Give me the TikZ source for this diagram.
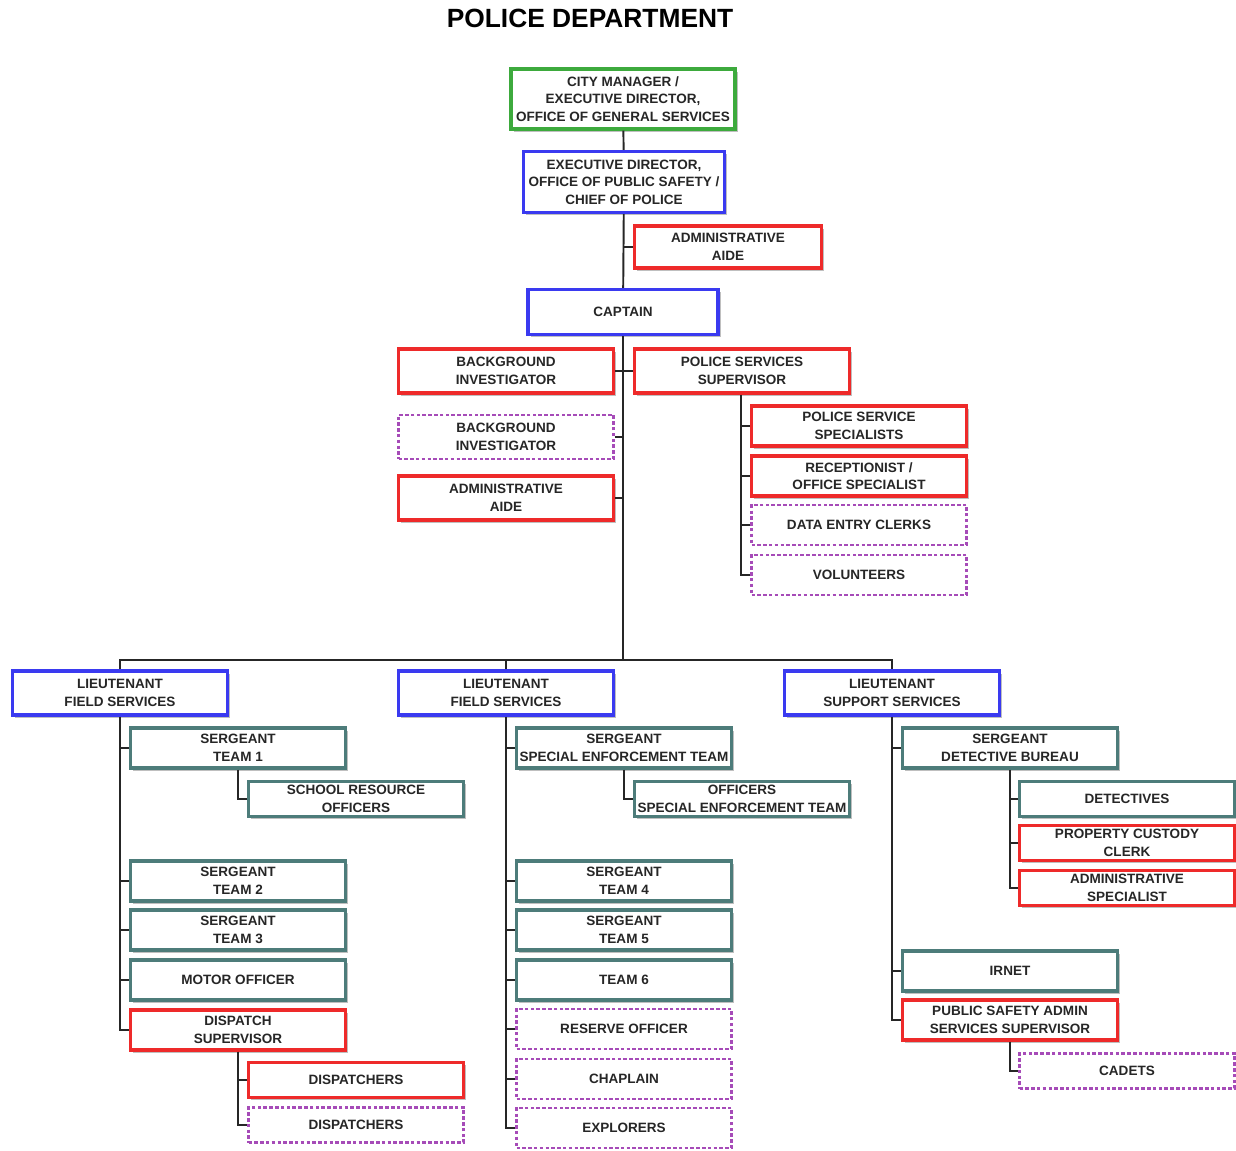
\documentclass[tikz,border=0pt]{standalone}
\usepackage{fontspec}
\setmainfont{Liberation Sans}
\usepackage{tikz}
\usetikzlibrary{positioning,shapes,shadows}

\definecolor{mgrgreen}{HTML}{3DAA3D}
\definecolor{execblue}{HTML}{3A3AF0}
\definecolor{civred}{HTML}{EE2A2A}
\definecolor{swornteal}{HTML}{4D7C7A}
\definecolor{volpurple}{HTML}{A64BB8}

\tikzset{
  box/.style={draw, line width=1.8pt, fill=white, align=center, inner sep=1pt,
              text=black!85, font=\fontsize{7.7}{10}\selectfont\bfseries,
              minimum width=4.3cm, minimum height=0.8cm},
  shaded/.style={box, drop shadow={shadow xshift=1.5pt, shadow yshift=-1.5pt, fill=gray!50, opacity=1}},
  mgr/.style={shaded, draw=mgrgreen},
  exec/.style={shaded, draw=execblue},
  civ/.style={shaded, draw=civred},
  sworn/.style={shaded, draw=swornteal},
  volbox/.style={box, draw=volpurple, line width=1.3pt, dash pattern=on 2pt off 1.3pt},
  slim/.style={minimum height=0.7cm},
  tall/.style={minimum height=0.88cm},
  link/.style={line width=1.1pt, black!85}
}

\begin{document}
\begin{tikzpicture}[x=0.02cm, y=-0.02cm]
  \useasboundingbox (0,0) rectangle (1236,1151);
  \node (title) at (590,18) {\fontsize{15}{17}\selectfont\bfseries POLICE DEPARTMENT};

  \node (cm) [mgr, minimum width=4.48cm, minimum height=1.2cm] at (623,99)
        {CITY MANAGER /\\EXECUTIVE DIRECTOR,\\OFFICE OF GENERAL SERVICES};
  \node (ed) [exec, minimum width=4.02cm, minimum height=1.22cm] at (624,182)
        {EXECUTIVE DIRECTOR,\\OFFICE OF PUBLIC SAFETY /\\CHIEF OF POLICE};
  \node (aide1) [civ, minimum width=3.74cm, minimum height=0.84cm] at (728,247)
        {ADMINISTRATIVE\\AIDE};
  \node (captain) [exec, minimum width=3.8cm, minimum height=0.9cm] at (623,312) {CAPTAIN};

  \node (bgi1) [civ, tall] at (506,371) {BACKGROUND\\INVESTIGATOR};
  \node (pss) [civ, tall] at (742,371) {POLICE SERVICES\\SUPERVISOR};
  \node (bgi2) [volbox, tall] at (506,437) {BACKGROUND\\INVESTIGATOR};
  \node (aide2) [civ, tall] at (506,498) {ADMINISTRATIVE\\AIDE};

  \node (psspec) [civ] at (859,426) {POLICE SERVICE\\SPECIALISTS};
  \node (recep) [civ] at (859,476) {RECEPTIONIST /\\OFFICE SPECIALIST};
  \node (dec) [volbox] at (859,525) {DATA ENTRY CLERKS};
  \node (vols) [volbox] at (859,575) {VOLUNTEERS};

  \node (lt1) [exec, tall] at (120,693) {LIEUTENANT\\FIELD SERVICES};
  \node (lt2) [exec, tall] at (506,693) {LIEUTENANT\\FIELD SERVICES};
  \node (lt3) [exec, tall] at (892,693) {LIEUTENANT\\SUPPORT SERVICES};

  \node (sgt1) [sworn] at (238,748) {SERGEANT\\TEAM 1};
  \node (sro) [sworn, slim] at (356,799) {SCHOOL RESOURCE\\OFFICERS};
  \node (sgt2) [sworn] at (238,881) {SERGEANT\\TEAM 2};
  \node (sgt3) [sworn] at (238,930) {SERGEANT\\TEAM 3};
  \node (motor) [sworn] at (238,980) {MOTOR OFFICER};
  \node (dsup) [civ] at (238,1030) {DISPATCH\\SUPERVISOR};
  \node (disp1) [civ, slim] at (356,1080) {DISPATCHERS};
  \node (disp2) [volbox, slim] at (356,1125) {DISPATCHERS};

  \node (sset) [sworn] at (624,748) {SERGEANT\\SPECIAL ENFORCEMENT TEAM};
  \node (oset) [sworn, slim] at (742,799) {OFFICERS\\SPECIAL ENFORCEMENT TEAM};
  \node (sgt4) [sworn] at (624,881) {SERGEANT\\TEAM 4};
  \node (sgt5) [sworn] at (624,930) {SERGEANT\\TEAM 5};
  \node (team6) [sworn] at (624,980) {TEAM 6};
  \node (reserve) [volbox] at (624,1029) {RESERVE OFFICER};
  \node (chaplain) [volbox] at (624,1079) {CHAPLAIN};
  \node (explorers) [volbox] at (624,1128) {EXPLORERS};

  \node (sdb) [sworn] at (1010,748) {SERGEANT\\DETECTIVE BUREAU};
  \node (detect) [sworn, slim] at (1127,799) {DETECTIVES};
  \node (pcc) [civ, slim] at (1127,843) {PROPERTY CUSTODY\\CLERK};
  \node (aspec) [civ, slim] at (1127,888) {ADMINISTRATIVE\\SPECIALIST};
  \node (irnet) [sworn] at (1010,971) {IRNET};
  \node (psass) [civ] at (1010,1020) {PUBLIC SAFETY ADMIN\\SERVICES SUPERVISOR};
  \node (cadets) [volbox, slim] at (1127,1071) {CADETS};

  \coordinate (bus) at (623,660);
  \draw [link] (cm) -- (ed);
  \draw [link] (ed) -- (captain);
  \draw [link] (aide1.west) -- (aide1.west -| ed.south);
  \draw [link] (captain) -- (bus);
  \draw [link] (bgi1.east) -- (pss.west);
  \foreach \n in {bgi2,aide2}
    \draw [link] (\n.east) -- (\n.east -| bus);
  \draw [link] (pss.south -| 741,0) |- (vols.west);
  \foreach \n in {psspec,recep,dec}
    \draw [link] (\n.west) -- ++(-10,0);

  \draw [link] (lt1.north) |- (bus) -| (lt3.north);
  \draw [link] (lt2.north) -- (lt2.north |- bus);

  \draw [link] (lt1.south) |- (dsup.west);
  \foreach \n in {sgt1,sgt2,sgt3,motor}
    \draw [link] (\n.west) -- (\n.west -| lt1.south);
  \draw [link] (sgt1.south) |- (sro.west);
  \draw [link] (dsup.south) |- (disp2.west);
  \draw [link] (disp1.west) -- (disp1.west -| dsup.south);

  \draw [link] (lt2.south) |- (explorers.west);
  \foreach \n in {sset,sgt4,sgt5,team6,reserve,chaplain}
    \draw [link] (\n.west) -- (\n.west -| lt2.south);
  \draw [link] (sset.south) |- (oset.west);

  \draw [link] (lt3.south) |- (psass.west);
  \foreach \n in {sdb,irnet}
    \draw [link] (\n.west) -- (\n.west -| lt3.south);
  \draw [link] (sdb.south) |- (aspec.west);
  \foreach \n in {detect,pcc}
    \draw [link] (\n.west) -- (\n.west -| sdb.south);
  \draw [link] (psass.south) |- (cadets.west);
\end{tikzpicture}
\end{document}
